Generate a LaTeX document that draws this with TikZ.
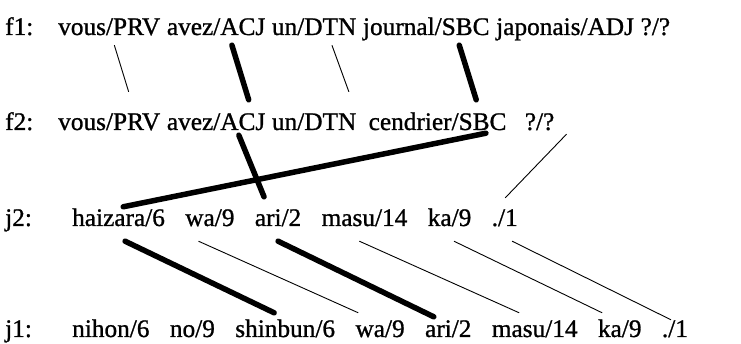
\documentclass[tikz,border=0pt]{standalone}
\usepackage{fontspec}
\setmainfont{Liberation Serif}
\newfontfamily\wordfont[FakeBold=1]{Liberation Serif}
\usetikzlibrary{calc}
\tikzset{
  x=1pt, y=-1pt,
  word/.style={inner sep=0pt, anchor=base west, text height=17pt, text depth=5pt,
    font=\wordfont\fontsize{25.3}{30}\selectfont},
  thinlink/.style={line width=0.9pt},
  thicklink/.style={line width=5.5pt, line cap=round},
}
\newcommand{\wsp}{6.3pt}
\newcommand{\jsp}{20pt}
\begin{document}
\begin{tikzpicture}
\useasboundingbox (0,0) rectangle (741,344);

% French sentence f1
\node[word] (f1l) at (5,35) {f1:};
\node[word] (f1a) at (58,35) {vous/PRV};
\node[word] (f1b) at ([xshift=\wsp]f1a.base east) {avez/ACJ};
\node[word] (f1c) at ([xshift=\wsp]f1b.base east) {un/DTN};
\node[word] (f1d) at ([xshift=\wsp]f1c.base east) {journal/SBC};
\node[word] (f1e) at ([xshift=\wsp]f1d.base east) {japonais/ADJ};
\node[word] (f1f) at ([xshift=\wsp]f1e.base east) {?/?};

% French sentence f2
\node[word] (f2l) at (5,130) {f2:};
\node[word] (f2a) at (58,130) {vous/PRV};
\node[word] (f2b) at ([xshift=\wsp]f2a.base east) {avez/ACJ};
\node[word] (f2c) at ([xshift=\wsp]f2b.base east) {un/DTN};
\node[word] (f2d) at ([xshift=12pt]f2c.base east) {cendrier/SBC};
\node[word] (f2e) at ([xshift=18pt]f2d.base east) {?/?};

% Japanese sentence j2
\node[word] (j2l) at (5,226) {j2:};
\node[word] (j2a) at (72,226) {haizara/6};
\node[word] (j2b) at ([xshift=\jsp]j2a.base east) {wa/9};
\node[word] (j2c) at ([xshift=\jsp]j2b.base east) {ari/2};
\node[word] (j2d) at ([xshift=\jsp]j2c.base east) {masu/14};
\node[word] (j2e) at ([xshift=\jsp]j2d.base east) {ka/9};
\node[word] (j2f) at ([xshift=\jsp]j2e.base east) {./1};

% Japanese sentence j1
\node[word] (j1l) at (5,337) {j1:};
\node[word] (j1a) at (72,337) {nihon/6};
\node[word] (j1b) at ([xshift=\jsp]j1a.base east) {no/9};
\node[word] (j1c) at ([xshift=\jsp]j1b.base east) {shinbun/6};
\node[word] (j1d) at ([xshift=\jsp]j1c.base east) {wa/9};
\node[word] (j1e) at ([xshift=\jsp]j1d.base east) {ari/2};
\node[word] (j1f) at ([xshift=\jsp]j1e.base east) {masu/14};
\node[word] (j1g) at ([xshift=\jsp]j1f.base east) {ka/9};
\node[word] (j1h) at ([xshift=\jsp]j1g.base east) {./1};

% links f1 -> f2
\draw[thinlink]  ($(f1a.south west)!.55!(f1a.south east)+(0,5)$) -- ($(f2a.north west)!.69!(f2a.north east)+(0,-21)$);
\draw[thicklink] ($(f1b.south west)!.66!(f1b.south east)+(0,5)$) -- ($(f2b.north west)!.83!(f2b.north east)+(0,-13)$);
\draw[thinlink]  ($(f1c.south west)!.71!(f1c.south east)+(0,5)$) -- ($(f2c.north west)!.91!(f2c.north east)+(0,-21)$);
\draw[thicklink] ($(f1d.south west)!.76!(f1d.south east)+(0,5)$) -- ($(f2d.north west)!.78!(f2d.north east)+(0,-13)$);

% links f2 -> j2
\draw[thicklink] ($(f2b.south west)!.73!(f2b.south east)$) -- ($(j2c.north west)!.20!(j2c.north east)+(0,-12)$);
\draw[thicklink] ($(f2d.south west)!.85!(f2d.south east)+(0,-2)$) -- ($(j2a.north west)!.55!(j2a.north east)+(0,-2)$);
\draw[thinlink]  ($(f2e.south east)+(12,-1)$) -- ($(j2f.north west)!.52!(j2f.north east)+(0,-11)$);

% links j2 -> j1
\draw[thicklink] ($(j2a.south west)!.57!(j2a.south east)+(0,10)$) -- ($(j1c.north west)!.39!(j1c.north east)+(0,-7)$);
\draw[thinlink]  ($(j2b.south west)!.27!(j2b.south east)+(0,10)$) -- ($(j1d.north west)!.06!(j1d.north east)+(0,-7)$);
\draw[thicklink] ($(j2c.south west)!.50!(j2c.south east)+(0,10)$) -- ($(j1e.north west)!.19!(j1e.north east)+(0,-3)$);
\draw[thinlink]  ($(j2d.south west)!.44!(j2d.south east)+(0,10)$) -- ($(j1f.north west)!.32!(j1f.north east)+(0,-7)$);
\draw[thinlink]  ($(j2e.south west)!.60!(j2e.south east)+(0,10)$) -- ($(j1g.north west)!.10!(j1g.north east)+(0,-7)$);
\draw[thinlink]  ($(j2f.south west)!.78!(j2f.south east)+(0,10)$) -- ($(j1h.north west)!.35!(j1h.north east)$);
\end{tikzpicture}
\end{document}
